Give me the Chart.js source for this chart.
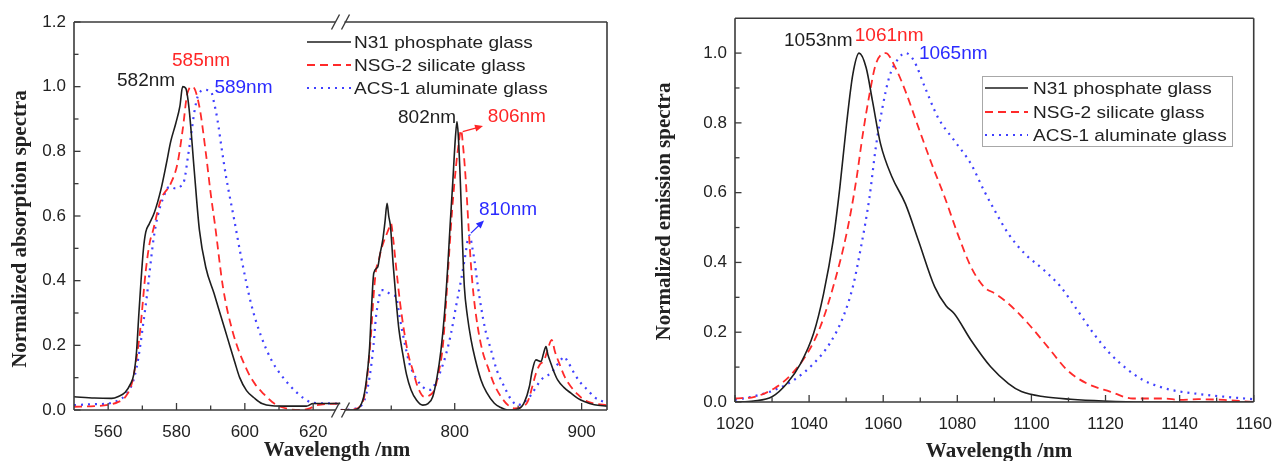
<!DOCTYPE html>
<html><head><meta charset="utf-8">
<script src="https://cdn.jsdelivr.net/npm/chart.js@4.4.1/dist/chart.umd.min.js"></script>
<style>
html,body{margin:0;padding:0;background:#fff;}
#wrap{position:relative;width:1284px;height:461px;overflow:hidden;background:#fff;}
canvas{position:absolute;top:0;}
#c1{left:0;} #c2{left:640px;}
</style></head><body>
<div id="wrap"><canvas id="c1" width="640" height="461"></canvas><canvas id="c2" width="644" height="461"></canvas></div>
<script>
// ---------------- data ----------------
const seriesNames = ['N31 phosphate glass', 'NSG-2 silicate glass', 'ACS-1 aluminate glass'];

// absorption spectra [wavelength nm, normalized value]
const absN31 = [[550,0.041],[556,0.037],[561,0.036],[563,0.042],[565,0.055],[566.5,0.08],[567.5,0.11],[568.3,0.18],[569,0.3],[570.3,0.495],[571,0.55],[572,0.575],[573.5,0.61],[575.4,0.68],[577,0.76],[578.3,0.83],[579.8,0.887],[581,0.94],[581.8,1.0],[582.7,0.995],[583.7,0.93],[585.2,0.74],[586.7,0.557],[588.6,0.44],[591,0.36],[593,0.29],[595,0.22],[597,0.15],[598.5,0.1],[600.5,0.06],[603,0.035],[605,0.02],[608,0.013],[612,0.012],[618,0.012],[620,0.02],[628,0.02],
  [710,0.0],[720,0.0],[727.6,0.031],[730,0.08],[732.8,0.186],[734.5,0.32],[736.2,0.423],[739.4,0.443],[741,0.48],[743.3,0.526],[745,0.58],[746.7,0.639],[748,0.6],[749.4,0.567],[751.5,0.45],[753.8,0.34],[756,0.25],[759,0.175],[762,0.11],[765.6,0.062],[770,0.03],[774.8,0.015],[779,0.02],[782.7,0.041],[786,0.1],[789.2,0.186],[792,0.3],[794.5,0.443],[796.5,0.58],[798.4,0.70],[800.5,0.84],[801.8,0.892],[802.8,0.85],[804.5,0.70],[806,0.53],[807.6,0.381],[810,0.29],[812.9,0.217],[816,0.16],[820.7,0.093],[825,0.055],[831.2,0.021],[836,0.008],[841.7,0.0],[850.9,0.005],[855,0.025],[858.8,0.072],[861,0.12],[864,0.155],[868,0.15],[870,0.175],[871.9,0.196],[873.5,0.17],[875.8,0.144],[878,0.12],[881.1,0.093],[886,0.07],[891.6,0.052],[897,0.036],[902.1,0.026],[910,0.016],[920,0.012]];
const absNSG2 = [[550,0.01],[556,0.012],[560,0.016],[563,0.025],[565,0.04],[567,0.085],[568.3,0.16],[569.4,0.25],[571,0.43],[572.2,0.52],[573,0.55],[575.4,0.65],[578.3,0.70],[580.3,0.763],[581.8,0.866],[583.2,0.98],[584.7,1.0],[586.7,0.938],[588.6,0.794],[590,0.67],[591.3,0.57],[593.6,0.38],[596.5,0.24],[600.6,0.124],[603,0.08],[605.5,0.05],[608,0.025],[610.4,0.01],[616,0.0],[619,0.005],[621,0.015],[628,0.02],
  [710,0.0],[720,0.002],[727.6,0.026],[731,0.1],[734.1,0.237],[736,0.35],[738,0.433],[740,0.46],[742,0.495],[744,0.52],[746,0.54],[748,0.56],[749.8,0.577],[751.5,0.53],[753.8,0.443],[757,0.33],[760.4,0.237],[763.5,0.17],[766.9,0.124],[771,0.07],[776.1,0.041],[780,0.045],[784,0.062],[787,0.11],[790.6,0.196],[793,0.32],[795.8,0.495],[798,0.62],[801,0.753],[803,0.82],[805,0.866],[806.5,0.82],[808.9,0.70],[811,0.56],[812.9,0.443],[815,0.35],[818.1,0.258],[822,0.18],[826,0.134],[831,0.08],[836.5,0.041],[842,0.015],[847,0.005],[852,0.008],[857.5,0.026],[861,0.07],[864,0.113],[867,0.14],[870.6,0.155],[873.5,0.19],[876.4,0.217],[879,0.18],[882.4,0.144],[887,0.1],[891.6,0.072],[897,0.048],[902.1,0.031],[910,0.02],[920,0.015]];
const absACS1 = [[550,0.015],[556,0.018],[560,0.02],[563,0.03],[565,0.045],[567,0.08],[568.3,0.13],[569.4,0.2],[570.3,0.27],[571.3,0.35],[573.3,0.53],[574.5,0.6],[575.9,0.65],[577.9,0.69],[579.8,0.685],[581,0.69],[582.3,0.711],[583.3,0.78],[584.2,0.845],[585.2,0.92],[586.2,0.969],[588.1,0.99],[590.1,0.985],[591,0.95],[592,0.897],[593.2,0.81],[594.5,0.722],[596.9,0.588],[598.9,0.474],[601.8,0.33],[604.7,0.23],[608,0.15],[610.5,0.11],[613.5,0.072],[617,0.038],[620,0.022],[628,0.02],
  [710,0.0],[720,0.003],[728.9,0.031],[731.5,0.07],[734.1,0.134],[736,0.2],[738,0.289],[740,0.34],[742,0.371],[745,0.37],[748.6,0.36],[751,0.355],[753.8,0.35],[756.5,0.29],[759,0.237],[761.5,0.19],[764.3,0.144],[768,0.11],[772.2,0.083],[777,0.065],[781.4,0.062],[785,0.085],[789.2,0.124],[793,0.17],[797.1,0.237],[801,0.32],[805,0.402],[808,0.47],[810.5,0.53],[812,0.54],[813.5,0.51],[815.5,0.464],[818,0.39],[820.7,0.32],[824,0.25],[828.6,0.186],[833,0.125],[839.1,0.072],[844,0.035],[849.6,0.015],[855,0.025],[860.1,0.046],[864,0.07],[868,0.093],[872,0.105],[875.8,0.113],[879,0.13],[883.7,0.155],[886,0.165],[889,0.15],[894.3,0.113],[899,0.085],[904.7,0.062],[910,0.04],[920,0.021]];

// emission spectra [wavelength nm, normalized value]
const emN31 = [[1020,0.0],[1025,0.003],[1030,0.015],[1034,0.053],[1037.7,0.11],[1041.2,0.196],[1043.9,0.31],[1046.5,0.463],[1048.3,0.615],[1050.1,0.796],[1051.8,0.939],[1053.5,1.0],[1055.4,0.958],[1057.1,0.863],[1059.3,0.739],[1062.4,0.644],[1066,0.568],[1069.5,0.463],[1073.9,0.33],[1077,0.275],[1079.2,0.253],[1083.7,0.177],[1089,0.101],[1093.8,0.053],[1097.3,0.03],[1103.5,0.015],[1110.6,0.008],[1119.4,0.003],[1130,0.0],[1160,0.0]];
const emNSG2 = [[1020,0.01],[1025.3,0.015],[1030.6,0.039],[1035,0.077],[1039.5,0.139],[1043,0.215],[1046.5,0.33],[1050.1,0.482],[1052.7,0.634],[1054.5,0.768],[1056.3,0.882],[1058,0.968],[1060.7,1.0],[1063.3,0.958],[1066,0.891],[1069.5,0.787],[1073.1,0.682],[1076.6,0.587],[1080.1,0.482],[1083.7,0.387],[1087.2,0.33],[1090.3,0.31],[1093.8,0.282],[1099.1,0.225],[1104.4,0.158],[1109.7,0.091],[1115,0.053],[1121.2,0.03],[1127.4,0.01],[1136,0.01],[1140,0.006],[1145,0.008],[1152,0.006],[1160,0.0]];
const emACS1 = [[1020,0.006],[1025.3,0.017],[1030.6,0.034],[1035.9,0.063],[1041.2,0.11],[1045.6,0.168],[1049.2,0.244],[1051.8,0.33],[1054,0.444],[1056.3,0.587],[1058,0.73],[1059.8,0.844],[1061.6,0.93],[1063.8,0.98],[1066,1.0],[1068.2,0.98],[1071.3,0.901],[1074.8,0.815],[1079.2,0.749],[1083.7,0.682],[1087.2,0.606],[1090.3,0.545],[1093.8,0.482],[1098.2,0.425],[1103.5,0.377],[1107.9,0.33],[1112.4,0.263],[1116.8,0.196],[1121.2,0.139],[1125.6,0.096],[1130.1,0.063],[1134.5,0.044],[1138.9,0.032],[1145.1,0.023],[1152.2,0.015],[1160,0.008]];

// axes / ticks
const absRangeA = [550, 628];
const absRangeB = [710, 920];
const absXTicksA = [560, 580, 600, 620];
const absXMinorA = [570, 590, 610];
const absXTicksB = [800, 900];
const absXMinorB = [750, 850];
const absYTicks = [0, 0.2, 0.4, 0.6, 0.8, 1.0, 1.2];
const absYMinor = [0.1, 0.3, 0.5, 0.7, 0.9, 1.1];
const emRange = [1020, 1160];
const emYRange = [0, 1.1];
const emXTicks = [1020, 1040, 1060, 1080, 1100, 1120, 1140, 1160];
const emXMinor = [1030, 1050, 1070, 1090, 1110, 1130, 1150];
const emYTicks = [0, 0.2, 0.4, 0.6, 0.8, 1.0];
const emYMinor = [0.1, 0.3, 0.5, 0.7, 0.9];

// peak labels (data coordinates)
const absNotes = [
  {text:'582nm', axis:'xa', x:571.1, y:1.018, color:'#1e1e1e'},
  {text:'585nm', axis:'xa', x:587.2, y:1.079, color:'#ff2626'},
  {text:'589nm', axis:'xa', x:599.6, y:0.996, color:'#2b2bff'},
  {text:'802nm', axis:'xb', x:778.2, y:0.903, color:'#1e1e1e'},
  {text:'806nm', axis:'xb', x:849.0, y:0.906, color:'#ff2626'},
  {text:'810nm', axis:'xb', x:842.0, y:0.619, color:'#2b2bff'}
];
const absArrows = [
  {axis:'xb', from:[806.3,0.861], to:[822.3,0.878], color:'#ff2626'},
  {axis:'xb', from:[812.8,0.547], to:[823.1,0.586], color:'#2b2bff'}
];
const emNotes = [
  {text:'1053nm', axis:'x', x:1042.5, y:1.034, color:'#1e1e1e'},
  {text:'1061nm', axis:'x', x:1061.6, y:1.051, color:'#ff2626'},
  {text:'1065nm', axis:'x', x:1078.9, y:0.997, color:'#2b2bff'}
];

// ---------------- styles ----------------
const lineStyles = [
  {borderColor:'#1e1e1e', borderWidth:1.6, borderDash:[]},
  {borderColor:'#ff2a2a', borderWidth:1.8, borderDash:[8,5]},
  {borderColor:'#4040ff', borderWidth:2.2, borderDash:[2,5]}
];
const tickFont = {family:'"Liberation Sans", Arial, sans-serif', size:17};
const titleFont = 'bold 21px "Liberation Serif", "Times New Roman", serif';
const textColor = '#222';

function toPts(arr, lo, hi) {
  return arr.filter(p => p[0] >= lo && p[0] <= hi).map(p => ({x:p[0], y:p[1]}));
}
function ds(i, data, axisId, legend) {
  return Object.assign({label:seriesNames[i], data, xAxisID:axisId, yAxisID:'y', pointRadius:0,
    fill:false, cubicInterpolationMode:'monotone', showInLegend:legend}, lineStyles[i]);
}
function fixedTicks(arr) { return s => { s.ticks = arr.map(v => ({value:v})); }; }
function axisBase(extra) {
  return Object.assign({type:'linear', grid:{display:false, drawTicks:false}, border:{display:false}}, extra);
}

// ---------------- decoration plugin ----------------
function makeDeco(cfg) {
  return {
    id:'deco',
    afterDraw(chart) {
      const ctx = chart.ctx, ca = chart.chartArea, ys = chart.scales.y;
      ctx.save();
      ctx.strokeStyle = '#3a3a3a'; ctx.lineWidth = 1.6; ctx.lineCap = 'butt';
      const seg = (x1,y1,x2,y2) => { ctx.beginPath(); ctx.moveTo(x1,y1); ctx.lineTo(x2,y2); ctx.stroke(); };
      // frame
      seg(ca.left, ca.top, ca.left, ca.bottom);
      seg(ca.right, ca.top, ca.right, ca.bottom);
      if (cfg.breakAfter) {
        const bx = chart.scales[cfg.breakAfter].right;
        [ca.top, ca.bottom].forEach(yy => {
          seg(ca.left, yy, bx - 5, yy);
          seg(bx + 4, yy, ca.right, yy);
          ctx.lineWidth = 1.4;
          seg(bx - 9, yy + 7.5, bx - 1, yy - 7.5);
          seg(bx + 1, yy + 7.5, bx + 9, yy - 7.5);
          ctx.lineWidth = 1.6;
        });
      } else {
        seg(ca.left, ca.top, ca.right, ca.top);
        seg(ca.left, ca.bottom, ca.right, ca.bottom);
      }
      // inward ticks
      ctx.lineWidth = 1.3;
      cfg.xAxes.forEach(a => {
        const sc = chart.scales[a.id];
        sc.ticks.forEach(t => { const px = sc.getPixelForValue(t.value); seg(px, ca.bottom, px, ca.bottom - 7); });
        a.minor.forEach(v => { const px = sc.getPixelForValue(v); seg(px, ca.bottom, px, ca.bottom - 4.5); });
      });
      ys.ticks.forEach(t => { const py = ys.getPixelForValue(t.value); seg(ca.left, py, ca.left + 6.5, py); });
      cfg.yMinor.forEach(v => { const py = ys.getPixelForValue(v); seg(ca.left, py, ca.left + 4.5, py); });
      // axis titles
      ctx.fillStyle = textColor; ctx.font = titleFont; ctx.textAlign = 'center'; ctx.textBaseline = 'middle';
      ctx.fillText(cfg.xTitle.text, cfg.xTitle.x, cfg.xTitle.y);
      ctx.save(); ctx.translate(cfg.yTitle.x, cfg.yTitle.y); ctx.rotate(-Math.PI/2);
      ctx.fillText(cfg.yTitle.text, 0, 0); ctx.restore();
      // peak labels
      ctx.font = '19px "Liberation Sans", Arial, sans-serif';
      cfg.notes.forEach(n => {
        ctx.fillStyle = n.color;
        ctx.fillText(n.text, chart.scales[n.axis].getPixelForValue(n.x), ys.getPixelForValue(n.y));
      });
      (cfg.arrows || []).forEach(a => {
        const sc = chart.scales[a.axis];
        const x1 = sc.getPixelForValue(a.from[0]), y1 = ys.getPixelForValue(a.from[1]);
        const x2 = sc.getPixelForValue(a.to[0]), y2 = ys.getPixelForValue(a.to[1]);
        const ang = Math.atan2(y2 - y1, x2 - x1);
        ctx.strokeStyle = a.color; ctx.fillStyle = a.color; ctx.lineWidth = 1.2;
        seg(x1, y1, x2 - 5*Math.cos(ang), y2 - 5*Math.sin(ang));
        ctx.beginPath(); ctx.moveTo(x2, y2);
        ctx.lineTo(x2 - 8*Math.cos(ang) + 3.5*Math.sin(ang), y2 - 8*Math.sin(ang) - 3.5*Math.cos(ang));
        ctx.lineTo(x2 - 8*Math.cos(ang) - 3.5*Math.sin(ang), y2 - 8*Math.sin(ang) + 3.5*Math.cos(ang));
        ctx.closePath(); ctx.fill();
      });
      // legend
      const L = cfg.legend;
      if (L.box) {
        ctx.strokeStyle = '#a8a8a8'; ctx.lineWidth = 1;
        ctx.strokeRect(L.box[0] + 0.5, L.box[1] + 0.5, L.box[2], L.box[3]);
      }
      const entries = chart.data.datasets.filter(d => d.showInLegend);
      ctx.font = '17px "Liberation Sans", Arial, sans-serif'; ctx.textAlign = 'left';
      entries.forEach((d, i) => {
        const yy = L.rows[i];
        ctx.strokeStyle = d.borderColor; ctx.lineWidth = d.borderWidth; ctx.setLineDash(d.borderDash || []);
        seg(L.x0, yy, L.x1, yy);
        ctx.setLineDash([]);
        ctx.fillStyle = textColor;
        ctx.save(); ctx.translate(L.tx, yy + 1); ctx.scale(1.12, 1); ctx.fillText(d.label, 0, 0); ctx.restore();
      });
      ctx.restore();
    }
  };
}

// ---------------- absorption chart ----------------
const absSeries = [absN31, absNSG2, absACS1];
const absDatasets = [];
absSeries.forEach((s, i) => {
  absDatasets.push(ds(i, toPts(s, absRangeA[0], absRangeA[1]), 'xa', true));
  absDatasets.push(ds(i, toPts(s, absRangeB[0], absRangeB[1]), 'xb', false));
});

new Chart(document.getElementById('c1'), {
  type:'line',
  data:{datasets:absDatasets},
  options:{
    responsive:false, animation:false, maintainAspectRatio:false,
    layout:{padding:{left:0, right:33, top:22, bottom:0}},
    plugins:{legend:{display:false}, tooltip:{enabled:false}},
    scales:{
      xa: axisBase({position:'bottom', stack:'brk', stackWeight:1, min:absRangeA[0], max:absRangeA[1],
        afterBuildTicks:fixedTicks(absXTicksA), afterFit:s => { s.height = 51; },
        ticks:{font:tickFont, color:textColor, padding:12, autoSkip:false, maxRotation:0, callback:v => String(v)}}),
      xb: axisBase({position:'bottom', stack:'brk', stackWeight:1, min:absRangeB[0], max:absRangeB[1],
        afterBuildTicks:fixedTicks(absXTicksB), afterFit:s => { s.height = 51; },
        ticks:{font:tickFont, color:textColor, padding:12, autoSkip:false, maxRotation:0, callback:v => String(v)}}),
      y: axisBase({position:'left', min:0, max:1.2,
        afterBuildTicks:fixedTicks(absYTicks), afterFit:s => { s.width = 74; },
        ticks:{font:tickFont, color:textColor, padding:8, callback:v => Number(v).toFixed(1)}})
    }
  },
  plugins:[makeDeco({
    breakAfter:'xa',
    xAxes:[{id:'xa', minor:absXMinorA}, {id:'xb', minor:absXMinorB}],
    yMinor:absYMinor,
    xTitle:{text:'Wavelength /nm', x:337, y:451},
    yTitle:{text:'Normalized absorption spectra', x:20.5, y:229},
    notes:absNotes, arrows:absArrows,
    legend:{x0:307, x1:351, tx:354, rows:[42, 65, 88]}
  })]
});

// ---------------- emission chart ----------------
const emSeries = [emN31, emNSG2, emACS1];
const emDatasets = emSeries.map((s, i) => ds(i, toPts(s, emRange[0], emRange[1]), 'x', true));

new Chart(document.getElementById('c2'), {
  type:'line',
  data:{datasets:emDatasets},
  options:{
    responsive:false, animation:false, maintainAspectRatio:false,
    layout:{padding:{left:0, right:21, top:16, bottom:0}},
    plugins:{legend:{display:false}, tooltip:{enabled:false}},
    scales:{
      x: axisBase({position:'bottom', min:emRange[0], max:emRange[1],
        afterBuildTicks:fixedTicks(emXTicks), afterFit:s => { s.height = 59; },
        ticks:{font:tickFont, color:textColor, padding:12, autoSkip:false, maxRotation:0, callback:v => String(v)}}),
      y: axisBase({position:'left', min:emYRange[0], max:emYRange[1],
        afterBuildTicks:fixedTicks(emYTicks), afterFit:s => { s.width = 95; },
        ticks:{font:tickFont, color:textColor, padding:8, callback:v => Number(v).toFixed(1)}})
    }
  },
  plugins:[makeDeco({
    breakAfter:null,
    xAxes:[{id:'x', minor:emXMinor}],
    yMinor:emYMinor,
    xTitle:{text:'Wavelength /nm', x:359, y:452},
    yTitle:{text:'Normalized emission spectra', x:25, y:211.5},
    notes:emNotes,
    legend:{x0:345, x1:388, tx:393, rows:[88, 112, 135], box:[342, 76, 250, 70]}
  })]
});
</script>
</body></html>
